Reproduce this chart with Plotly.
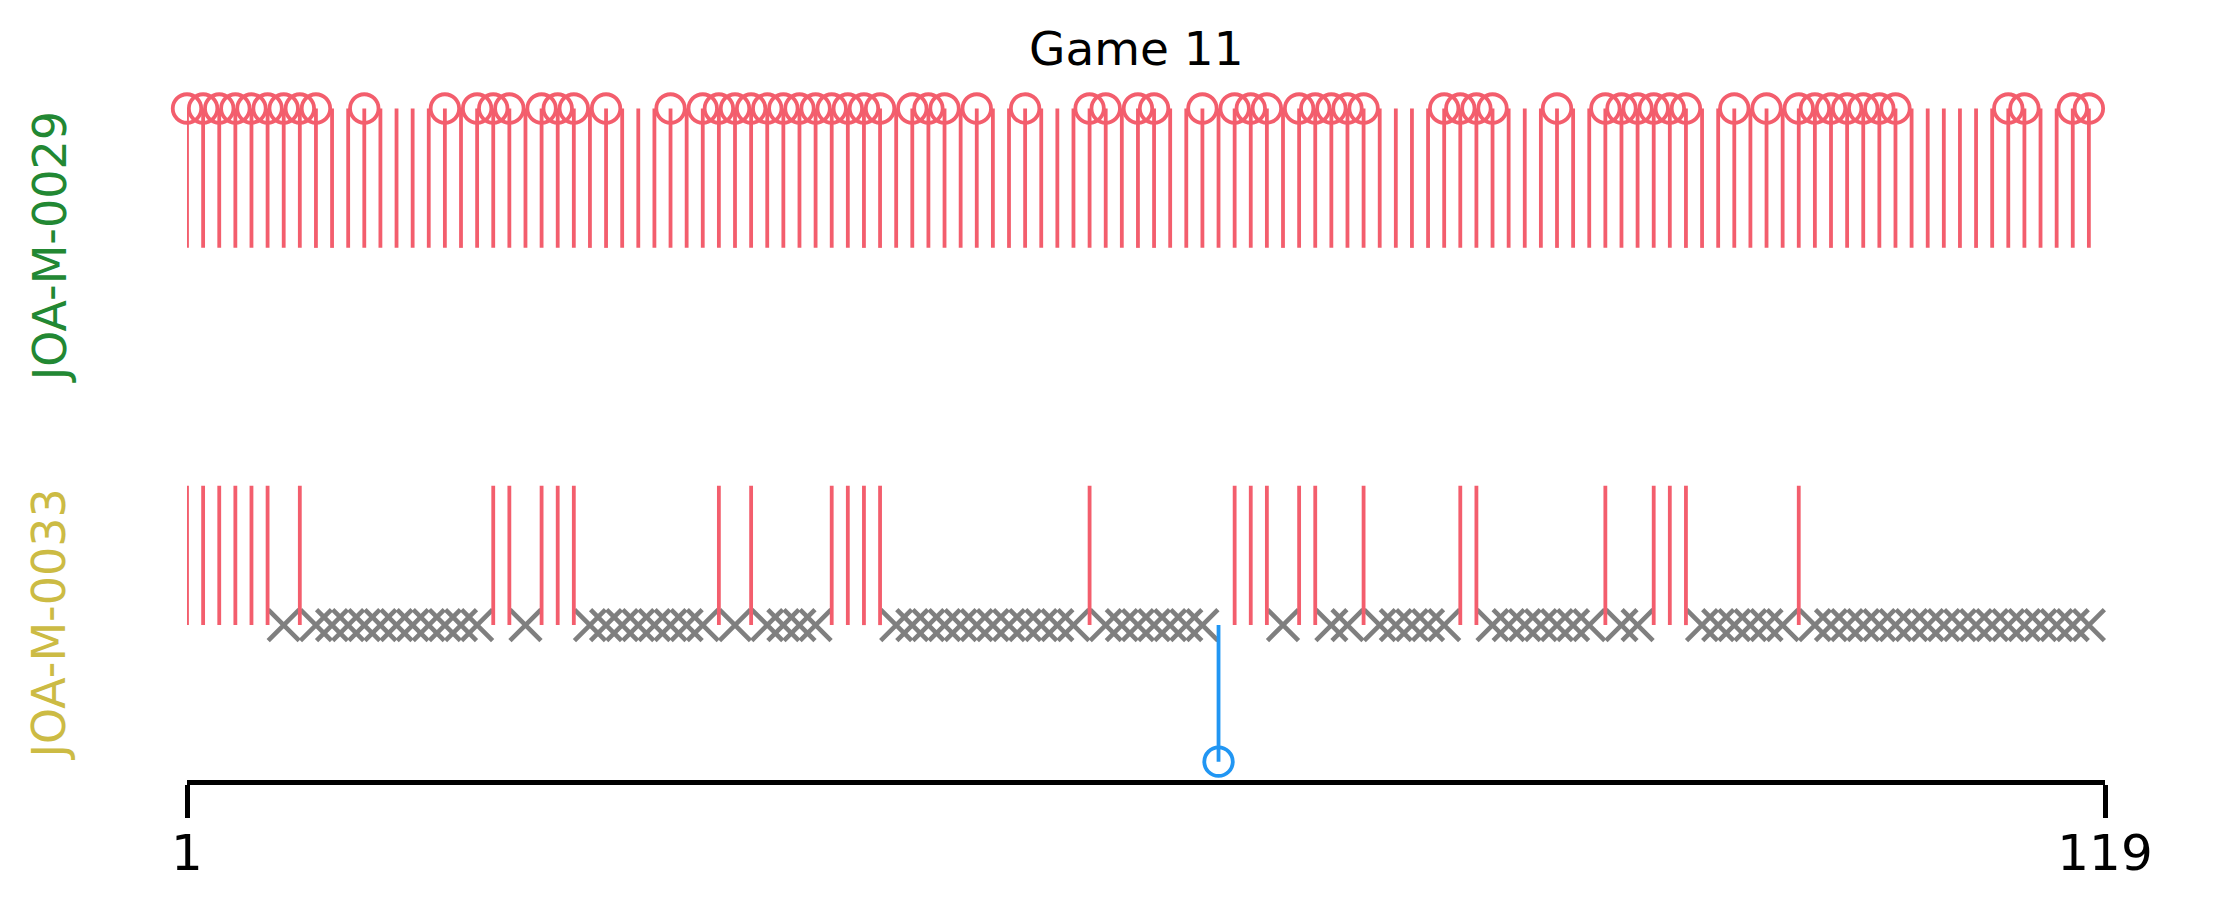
import plotly.graph_objects as go

# ---------------- data ----------------
title_text = "Game 11"
players = ["JOA-M-0029", "JOA-M-0033"]
player_colors = ["#228833", "#CCBB44"]
n_moves = 119
moves = list(range(1, n_moves + 1))
tick_labels = ["1", "119"]

# JOA-M-0029: a stem at every move, circle marks on these moves
p29_up_moves = moves
p29_circle_moves = [1, 2, 3, 4, 5, 6, 7, 8, 9, 12, 17, 19, 20, 21, 23, 24, 25, 27, 31,
                    33, 34, 35, 36, 37, 38, 39, 40, 41, 42, 43, 44, 46, 47, 48, 50, 53,
                    57, 58, 60, 61, 64, 66, 67, 68, 70, 71, 72, 73, 74, 79, 80, 81, 82,
                    86, 89, 90, 91, 92, 93, 94, 97, 99, 101, 102, 103, 104, 105, 106,
                    107, 114, 115, 118, 119]

# JOA-M-0033: stems up, one stem down, crosses elsewhere
p33_up_moves = [1, 2, 3, 4, 5, 6, 8, 20, 21, 23, 24, 25, 34, 36, 41, 42, 43, 44, 57,
                66, 67, 68, 70, 71, 74, 80, 81, 89, 92, 93, 94, 101]
p33_down_moves = [65]
p33_cross_moves = [m for m in moves if m not in p33_up_moves and m not in p33_down_moves]

# ---------------- style ----------------
RED = "#F35E6D"
BLUE = "#2196F3"
GRAY = "#7F7F7F"
FONT = "DejaVu Sans"
STEM_UP = 0.3695
STEM_DOWN = 0.362
LW = 3.8
base = {"JOA-M-0029": 1.0, "JOA-M-0033": 0.0}


def stems(xs, y0, y1):
    X, Y = [], []
    for m in xs:
        X += [m, m, None]
        Y += [y0, y1, None]
    return X, Y


fig = go.Figure()

# crosses of JOA-M-0033
fig.add_trace(go.Scatter(
    x=p33_cross_moves, y=[base["JOA-M-0033"]] * len(p33_cross_moves), mode="markers",
    marker=dict(symbol="x-thin-open", size=31, color=GRAY, line=dict(color=GRAY, width=4.6)),
    cliponaxis=False, showlegend=False, hoverinfo="skip"))

# stems of JOA-M-0029
sx, sy = stems(p29_up_moves, base["JOA-M-0029"], base["JOA-M-0029"] + STEM_UP)
fig.add_trace(go.Scatter(x=sx, y=sy, mode="lines", line=dict(color=RED, width=LW),
                         cliponaxis=False, showlegend=False, hoverinfo="skip"))
fig.add_trace(go.Scatter(
    x=p29_circle_moves, y=[base["JOA-M-0029"] + STEM_UP] * len(p29_circle_moves), mode="markers",
    marker=dict(symbol="circle-open", size=28.5, color=RED, line=dict(color=RED, width=LW)),
    cliponaxis=False, showlegend=False, hoverinfo="skip"))

# stems of JOA-M-0033
sx, sy = stems(p33_up_moves, base["JOA-M-0033"], base["JOA-M-0033"] + STEM_UP)
fig.add_trace(go.Scatter(x=sx, y=sy, mode="lines", line=dict(color=RED, width=LW),
                         cliponaxis=False, showlegend=False, hoverinfo="skip"))
sx, sy = stems(p33_down_moves, base["JOA-M-0033"], base["JOA-M-0033"] - STEM_DOWN)
fig.add_trace(go.Scatter(x=sx, y=sy, mode="lines", line=dict(color=BLUE, width=LW),
                         cliponaxis=False, showlegend=False, hoverinfo="skip"))
fig.add_trace(go.Scatter(
    x=p33_down_moves, y=[base["JOA-M-0033"] - STEM_DOWN] * len(p33_down_moves), mode="markers",
    marker=dict(symbol="circle-open", size=28.5, color=BLUE, line=dict(color=BLUE, width=LW)),
    cliponaxis=False, showlegend=False, hoverinfo="skip"))

L, R, T, B = 187, 109, 78, 128.5
W, H = 2214, 909
plot_w = W - L - R

# player labels
for p, c in zip(players, player_colors):
    fig.add_annotation(x=0, xref="paper", xshift=49.5 - L, y=base[p], yref="y",
                       text=p, textangle=-90, showarrow=False,
                       xanchor="center", yanchor="middle",
                       font=dict(family=FONT, size=46, color=c))

# title
fig.add_annotation(x=(1136.5 - L) / plot_w, xref="paper", y=1, yref="paper", yshift=30,
                   text=title_text, showarrow=False, xanchor="center", yanchor="middle",
                   font=dict(family=FONT, size=47, color="black"))

fig.update_layout(
    width=W, height=H,
    margin=dict(l=L, r=R, t=T, b=B, pad=0),
    plot_bgcolor="white", paper_bgcolor="white",
    font=dict(family=FONT, color="black"),
    xaxis=dict(range=[1, n_moves + 1], tickvals=[1, n_moves + 1], ticktext=tick_labels,
               showgrid=False, zeroline=False, showline=True, linecolor="black", linewidth=4.5,
               ticks="outside", ticklen=33, tickwidth=4.5, tickcolor="black",
               ticklabelstandoff=-8,
               tickfont=dict(family=FONT, size=50, color="black")),
    yaxis=dict(range=[-(H - B - 625.5) / 377.5, 1.4503], visible=False, fixedrange=True),
)

fig.write_html("out.html")
